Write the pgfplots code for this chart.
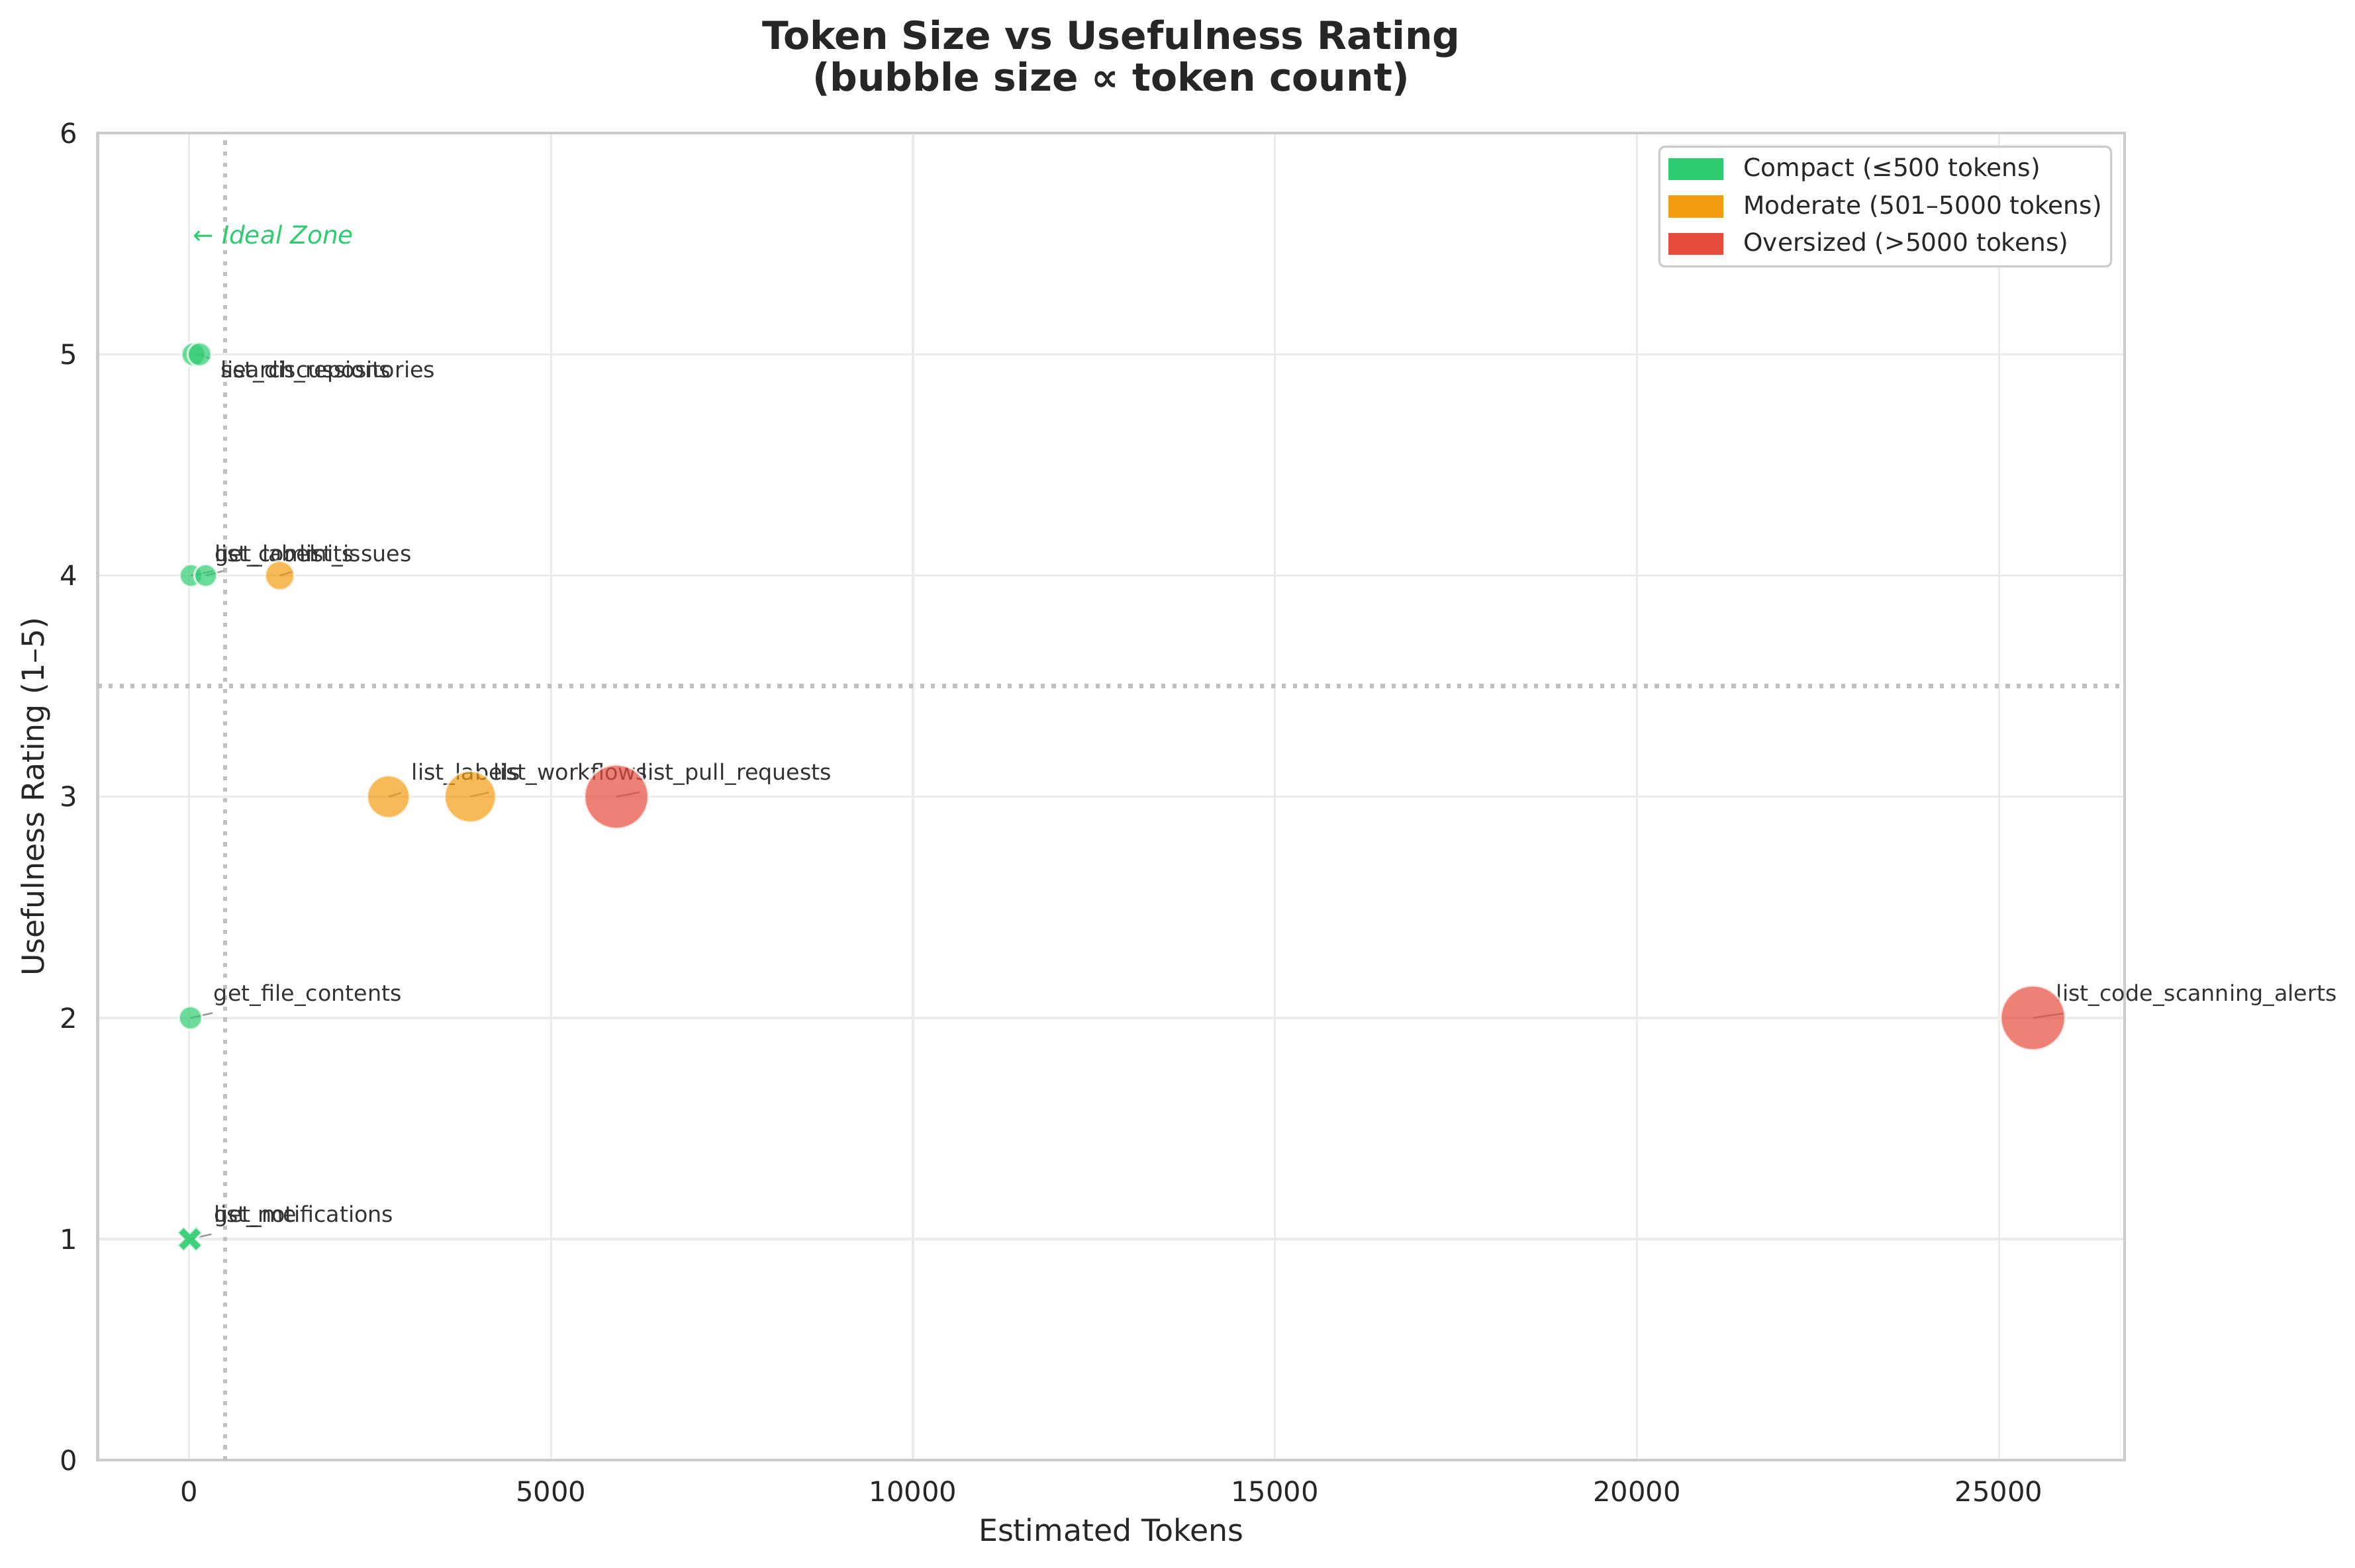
\documentclass[border=0pt]{standalone}
\usepackage{fontspec}
\setmainfont{DejaVu Sans}[ItalicFont={DejaVu Sans Oblique},BoldFont={DejaVu Sans Bold},BoldItalicFont={DejaVu Sans Bold Oblique}]
\usepackage{pgfplots}
\pgfplotsset{compat=1.18}

\definecolor{cgreen}{HTML}{2ECC71}
\definecolor{corange}{HTML}{F39C12}
\definecolor{cred}{HTML}{E74C3C}
\definecolor{cgrid}{HTML}{EBEBEB}
\definecolor{cspine}{HTML}{CCCCCC}
\definecolor{ctext}{HTML}{262626}
\definecolor{cann}{HTML}{333333}
\definecolor{cref}{HTML}{C0C0C0}
\definecolor{cline}{HTML}{999999}

% filled X marker (like matplotlib 'X')
\pgfdeclareplotmark{Xfill}{%
  \pgftransformrotate{45}%
  \pgfpathmoveto{\pgfpoint{0.333\pgfplotmarksize}{\pgfplotmarksize}}%
  \pgfpathlineto{\pgfpoint{0.333\pgfplotmarksize}{0.333\pgfplotmarksize}}%
  \pgfpathlineto{\pgfpoint{\pgfplotmarksize}{0.333\pgfplotmarksize}}%
  \pgfpathlineto{\pgfpoint{\pgfplotmarksize}{-0.333\pgfplotmarksize}}%
  \pgfpathlineto{\pgfpoint{0.333\pgfplotmarksize}{-0.333\pgfplotmarksize}}%
  \pgfpathlineto{\pgfpoint{0.333\pgfplotmarksize}{-\pgfplotmarksize}}%
  \pgfpathlineto{\pgfpoint{-0.333\pgfplotmarksize}{-\pgfplotmarksize}}%
  \pgfpathlineto{\pgfpoint{-0.333\pgfplotmarksize}{-0.333\pgfplotmarksize}}%
  \pgfpathlineto{\pgfpoint{-\pgfplotmarksize}{-0.333\pgfplotmarksize}}%
  \pgfpathlineto{\pgfpoint{-\pgfplotmarksize}{0.333\pgfplotmarksize}}%
  \pgfpathlineto{\pgfpoint{-0.333\pgfplotmarksize}{0.333\pgfplotmarksize}}%
  \pgfpathlineto{\pgfpoint{-0.333\pgfplotmarksize}{\pgfplotmarksize}}%
  \pgfpathclose
  \pgfusepathqfillstroke
}

\pgfplotsset{
  bub/.style={only marks, mark=*, forget plot,
    mark options={fill=#1, draw=white, line width=0.8pt, fill opacity=0.7, draw opacity=0.7}},
}
\tikzset{lab/.style={anchor=base west, inner sep=0pt, font=\fontsize{8}{9.6}\selectfont, text=cann}}

\begin{document}
\begin{tikzpicture}
\begin{axis}[
  name=ax,
  scale only axis,
  width=734.8pt, height=481.2pt,
  xmin=-1262, xmax=26737, ymin=0, ymax=6,
  xtick={0,5000,10000,15000,20000,25000},
  xticklabels={0,5000,10000,15000,20000,25000},
  scaled x ticks=false,
  ytick={0,1,2,3,4,5,6},
  yticklabels={0,1,2,3,4,5,6},
  major tick length=0pt,
  tick label style={font=\fontsize{10}{12}\selectfont, text=ctext, inner sep=0pt},
  xticklabel style={anchor=north, yshift=-7.3pt},
  yticklabel style={anchor=east, xshift=-7.1pt},
  grid=major,
  major grid style={draw=cgrid, line width=0.8pt},
  axis line style={draw=cspine, line width=1pt},
  clip=false,
  legend cell align=left,
  legend style={at={(rel axis cs:1,1)}, anchor=north east, xshift=-4.5pt, yshift=-4.5pt,
    draw=cspine, line width=0.8pt, rounded corners=2pt, fill=white, fill opacity=0.8,
    draw opacity=1, text opacity=1, font=\fontsize{9}{10.8}\selectfont, text=ctext,
    inner xsep=3.3pt, inner ysep=4pt, row sep=5.2pt, column sep=7.2pt,
    nodes={inner sep=0pt}},
]
% reference lines
\draw[cref, line width=1.5pt, dash pattern=on 1.5pt off 2.475pt] (axis cs:500,0) -- (axis cs:500,6);
\draw[cref, line width=1.5pt, dash pattern=on 1.5pt off 2.475pt] (axis cs:-1262,3.5) -- (axis cs:26737,3.5);

% compact (<=500 tokens)
\addplot[bub=cgreen, mark size=4.3pt] coordinates {(60,5) (145,5)};
\addplot[bub=cgreen, mark size=4.1pt] coordinates {(27,4) (230,4)};
\addplot[bub=cgreen, mark size=4.2pt] coordinates {(20,2)};
% moderate
\addplot[bub=corange, mark size=5.3pt] coordinates {(1253,4)};
\addplot[bub=corange, mark size=7.7pt] coordinates {(2755,3)};
\addplot[bub=corange, mark size=9.3pt] coordinates {(3884,3)};
% oversized
\addplot[bub=cred, mark size=11.6pt] coordinates {(5904,3)};
\addplot[bub=cred, mark size=11.7pt] coordinates {(25470,2)};
% rating 1 (cross)
\addplot[only marks, mark=Xfill, mark size=4.8pt, forget plot,
  mark options={fill=cgreen, draw=white, line width=0.8pt, fill opacity=0.7, draw opacity=0.7}]
  coordinates {(8,1) (12,1)};

\addlegendimage{legend image code/.code={\fill[cgreen, fill opacity=1, sharp corners] (0pt,-3.6pt) rectangle (19.2pt,3.6pt);}}
\addlegendentry{Compact (≤500 tokens)}
\addlegendimage{legend image code/.code={\fill[corange, fill opacity=1, sharp corners] (0pt,-3.6pt) rectangle (19.2pt,3.6pt);}}
\addlegendentry{Moderate (501–5000 tokens)}
\addlegendimage{legend image code/.code={\fill[cred, fill opacity=1, sharp corners] (0pt,-3.6pt) rectangle (19.2pt,3.6pt);}}
\addlegendentry{Oversized (>5000 tokens)}

% annotation leaders
\draw[cline, line width=0.6pt] (axis cs:145,5) -- (axis cs:300,4.98);
\draw[cline, line width=0.6pt] (axis cs:27,4) -- (axis cs:330,4.02);
\draw[cline, line width=0.6pt] (axis cs:230,4) -- (axis cs:476,4.021);
\draw[cline, line width=0.6pt] (axis cs:1253,4) -- (axis cs:1440,4.018);
\draw[cline, line width=0.6pt] (axis cs:2755,3) -- (axis cs:2930,3.017);
\draw[cline, line width=0.6pt] (axis cs:3884,3) -- (axis cs:4141,3.02);
\draw[cline, line width=0.6pt] (axis cs:5904,3) -- (axis cs:6222,3.02);
\draw[cline, line width=0.6pt] (axis cs:20,2) -- (axis cs:325,2.022);
\draw[cline, line width=0.6pt] (axis cs:25470,2) -- (axis cs:25919,2.021);
\draw[cline, line width=0.6pt] (axis cs:10,1) -- (axis cs:311,1.022);

% annotation labels
\node[lab] at (axis cs:434,4.894) {list\_discussions};
\node[lab] at (axis cs:434,4.894) {search\_repositories};
\node[lab] at (axis cs:352,4.063) {get\_label};
\node[lab] at (axis cs:352,4.063) {list\_commits};
\node[lab] at (axis cs:1523,4.063) {list\_issues};
\node[lab] at (axis cs:3068,3.074) {list\_labels};
\node[lab] at (axis cs:4202,3.074) {list\_workflows};
\node[lab] at (axis cs:6242,3.074) {list\_pull\_requests};
\node[lab] at (axis cs:334,2.075) {get\_file\_contents};
\node[lab] at (axis cs:25786,2.075) {list\_code\_scanning\_alerts};
\node[lab] at (axis cs:343,1.076) {get\_me};
\node[lab] at (axis cs:343,1.076) {list\_notifications};

\node[anchor=base west, inner sep=0pt, font=\itshape\fontsize{9}{10.8}\selectfont, text=cgreen] at (axis cs:50,5.5) {← Ideal Zone};
\end{axis}

% axis labels and title
\node[anchor=north, inner sep=0pt, font=\fontsize{11}{13.2}\selectfont, text=ctext] at ([yshift=-20.9pt]ax.south) {Estimated Tokens};
\node[rotate=90, anchor=south, inner sep=0pt, font=\fontsize{11}{13.2}\selectfont, text=ctext] at ([xshift=-16.9pt]ax.west) {Usefulness Rating (1–5)};
\node[anchor=base, inner sep=0pt, font=\bfseries\fontsize{14}{16.8}\selectfont, text=ctext] at ([yshift=30.3pt]ax.north) {Token Size vs Usefulness Rating};
\node[anchor=base, inner sep=0pt, font=\bfseries\fontsize{14}{16.8}\selectfont, text=ctext] at ([yshift=15.2pt]ax.north) {(bubble size ∝ token count)};

\pgfresetboundingbox
\path[use as bounding box] ([xshift=-35.4pt,yshift=-39.0pt]ax.south west) rectangle ([xshift=83.5pt,yshift=48.3pt]ax.north east);
\end{tikzpicture}
\end{document}
